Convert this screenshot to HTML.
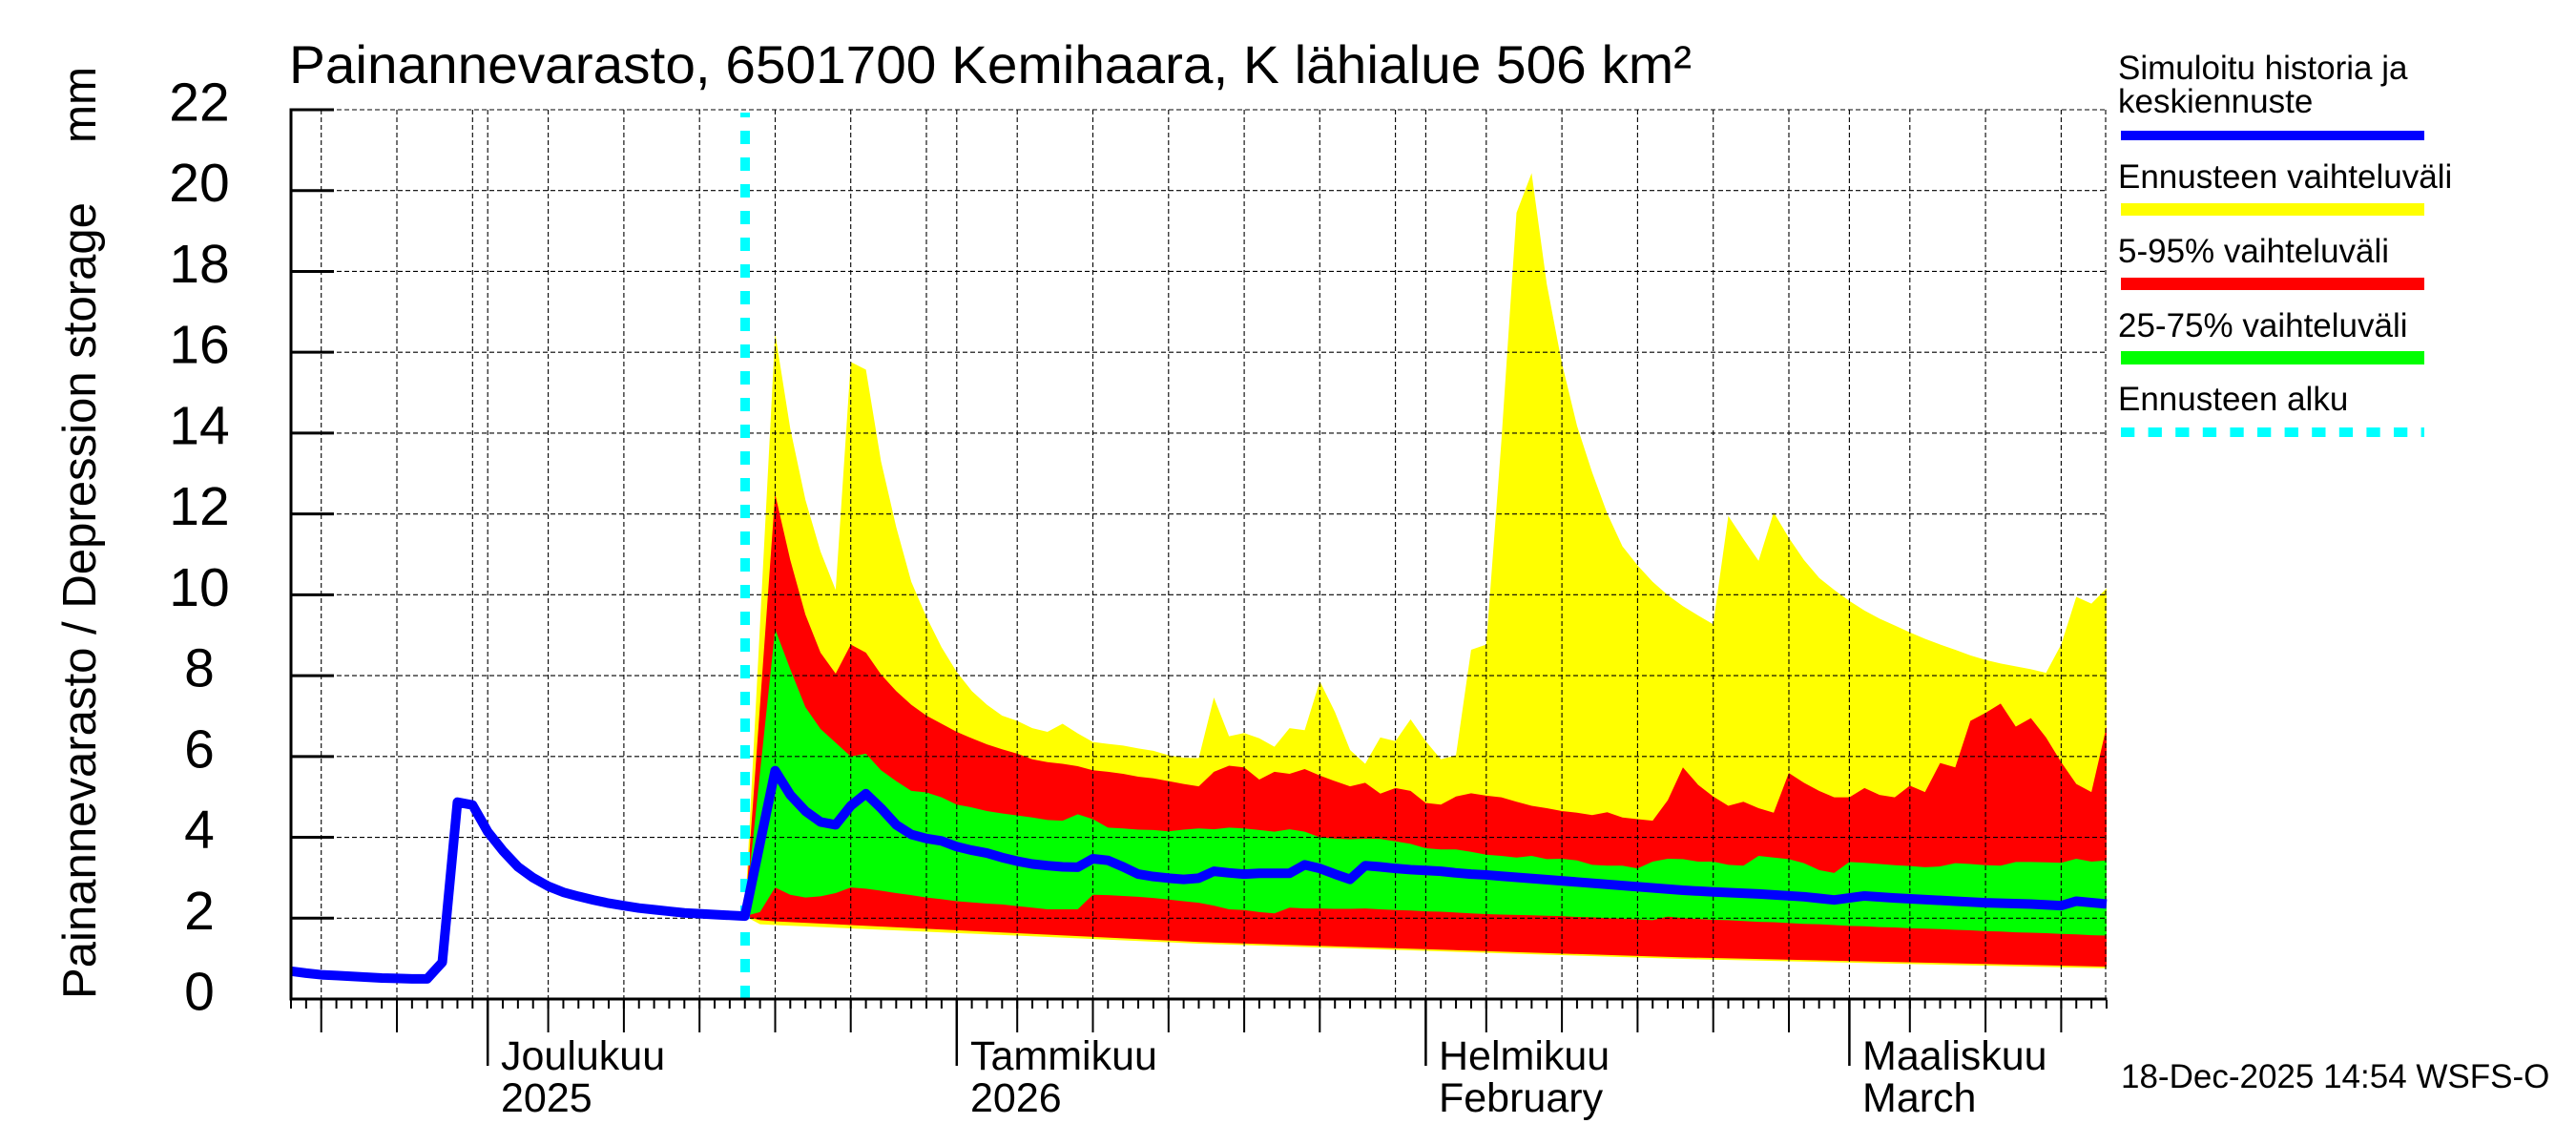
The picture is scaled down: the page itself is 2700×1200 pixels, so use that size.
<!DOCTYPE html>
<html>
<head>
<meta charset="utf-8">
<style>
html,body{margin:0;padding:0;background:#fff;}
svg{display:block;}
text{font-family:"Liberation Sans",Arial,Helvetica,sans-serif;fill:#000;}
</style>
</head>
<body>
<svg xmlns="http://www.w3.org/2000/svg" width="2700" height="1200" viewBox="0 0 2700 1200">
<defs>
<pattern id="minor" patternUnits="userSpaceOnUse" x="304" y="1048" width="15.858" height="10">
<rect x="0" y="0" width="2" height="10" fill="#000"/>
</pattern>
</defs>
<rect x="0" y="0" width="2700" height="1200" fill="#fff"/>

<!-- bands in data coordinates: x = 305 + 15.858*d, y = 1047 - 42.3636*v -->
<g transform="matrix(15.858 0 0 -42.3636 305 1047)">
<polygon fill="#ffff00" points="30,2.05 31,9.26 32,16.47 33,14.11 34,12.35 35,11.07 36,10.12 37,15.76 38,15.57 39,13.3 40,11.68 41,10.32 42,9.45 43,8.7 44,8.09 45,7.62 46,7.28 47,7.01 48,6.88 49,6.7 50,6.61 51,6.81 52,6.57 53,6.36 54,6.31 55,6.27 56,6.2 57,6.14 58,6.03 59,5.97 60,5.96 61,7.46 62,6.5 63,6.58 64,6.45 65,6.24 66,6.7 67,6.65 68,7.86 69,7.1 70,6.16 71,5.82 72,6.47 73,6.38 74,6.92 75,6.38 76,5.93 77,6.03 78,8.64 79,8.77 80,13.8 81,19.45 82,20.43 83,17.69 84,15.73 85,14.18 86,13.03 87,12.01 88,11.2 89,10.73 90,10.32 91,9.99 92,9.72 93,9.49 94,9.27 95,11.95 96,11.38 97,10.84 98,12.04 99,11.41 100,10.86 101,10.42 102,10.12 103,9.85 104,9.61 105,9.41 106,9.24 107,9.07 108,8.91 109,8.77 110,8.64 111,8.5 112,8.39 113,8.3 114,8.23 115,8.16 116,8.07 117,8.77 118,9.95 119,9.78 120,10.16 120,0.76 92,0.99 60,1.37 32,1.83 31,1.85 30,2.05"/>
<polygon fill="#ff0000" points="30,2.05 31,7.27 32,12.49 33,10.86 34,9.51 35,8.57 36,8.05 37,8.77 38,8.57 39,8.03 40,7.62 41,7.28 42,7.01 43,6.81 44,6.61 45,6.45 46,6.3 47,6.18 48,6.07 49,5.93 50,5.86 51,5.82 52,5.76 53,5.66 54,5.62 55,5.57 56,5.5 57,5.46 58,5.39 59,5.32 60,5.26 61,5.62 62,5.77 63,5.73 64,5.43 65,5.62 66,5.57 67,5.69 68,5.53 69,5.39 70,5.26 71,5.35 72,5.08 73,5.22 74,5.15 75,4.85 76,4.81 77,5.01 78,5.09 79,5.03 80,4.99 81,4.88 82,4.78 83,4.72 84,4.65 85,4.61 86,4.55 87,4.62 88,4.49 89,4.45 90,4.41 91,4.92 92,5.73 93,5.3 94,5.01 95,4.78 96,4.88 97,4.72 98,4.61 99,5.59 100,5.35 101,5.15 102,4.99 103,4.99 104,5.22 105,5.05 106,4.99 107,5.28 108,5.12 109,5.84 110,5.73 111,6.88 112,7.08 113,7.31 114,6.74 115,6.95 116,6.47 117,5.86 118,5.32 119,5.12 120,6.74 120,0.8 92,1.03 60,1.41 32,1.92 31,1.95 30,2.05"/>
<polygon fill="#00ff00" points="30,2.05 31,5.6 32,9.15 33,8.16 34,7.22 35,6.68 36,6.34 37,6.0 38,6.07 39,5.66 40,5.39 41,5.15 42,5.11 43,4.99 44,4.81 45,4.74 46,4.65 47,4.59 48,4.54 49,4.49 50,4.43 51,4.41 52,4.57 53,4.45 54,4.24 55,4.22 56,4.19 57,4.18 58,4.15 59,4.19 60,4.22 61,4.2 62,4.24 63,4.22 64,4.18 65,4.14 66,4.2 67,4.14 68,4.0 69,3.97 70,3.95 71,3.97 72,3.96 73,3.9 74,3.84 75,3.73 76,3.7 77,3.7 78,3.64 79,3.57 80,3.54 81,3.5 82,3.54 83,3.46 84,3.47 85,3.43 86,3.32 87,3.3 88,3.3 89,3.23 90,3.4 91,3.47 92,3.46 93,3.4 94,3.4 95,3.32 96,3.3 97,3.54 98,3.5 99,3.46 100,3.36 101,3.19 102,3.12 103,3.39 104,3.37 105,3.34 106,3.31 107,3.29 108,3.26 109,3.28 110,3.36 111,3.34 112,3.31 113,3.3 114,3.39 115,3.39 116,3.38 117,3.37 118,3.47 119,3.4 120,3.43 120,1.57 119,1.58 118,1.6 117,1.61 116,1.63 115,1.64 114,1.65 113,1.67 112,1.68 111,1.7 110,1.71 109,1.73 108,1.74 107,1.75 106,1.77 105,1.78 104,1.8 103,1.81 102,1.83 101,1.85 100,1.86 99,1.88 98,1.9 97,1.91 96,1.93 95,1.95 94,1.96 93,1.98 92,2.0 91,2.04 90,1.95 89,1.97 88,1.99 87,2.0 86,2.02 85,2.03 84,2.05 83,2.06 82,2.07 81,2.08 80,2.09 79,2.1 78,2.12 77,2.14 76,2.16 75,2.17 74,2.19 73,2.2 72,2.22 71,2.24 70,2.23 69,2.23 68,2.24 67,2.24 66,2.26 65,2.12 64,2.15 63,2.2 62,2.22 61,2.31 60,2.38 59,2.42 58,2.46 57,2.5 56,2.53 55,2.55 54,2.57 53,2.58 52,2.22 51,2.22 50,2.22 49,2.26 48,2.3 47,2.34 46,2.36 45,2.39 44,2.42 43,2.47 42,2.51 41,2.57 40,2.62 39,2.68 38,2.73 37,2.76 36,2.62 35,2.54 34,2.51 33,2.58 32,2.76 31,2.15 30,2.05"/>
</g>

<!-- grid -->
<path fill="none" stroke="#000" stroke-width="1.1" stroke-dasharray="5 3"
d="M305,962.27H2208 M305,877.55H2208 M305,792.82H2208 M305,708.09H2208 M305,623.36H2208 M305,538.64H2208 M305,453.91H2208 M305,369.18H2208 M305,284.45H2208 M305,199.73H2208 M305,115H2208
M336.7,115V1047 M416,115V1047 M495.3,115V1047 M511.2,115V1047 M574.6,115V1047 M653.9,115V1047 M733.2,115V1047 M812.5,115V1047 M891.7,115V1047 M971,115V1047 M1002.8,115V1047 M1066.2,115V1047 M1145.5,115V1047 M1224.8,115V1047 M1304.1,115V1047 M1383.3,115V1047 M1462.6,115V1047 M1494.4,115V1047 M1557.8,115V1047 M1637.1,115V1047 M1716.4,115V1047 M1795.7,115V1047 M1875,115V1047 M1938.4,115V1047 M2001.8,115V1047 M2081.1,115V1047 M2160.4,115V1047 M2207,115V1047"/>

<!-- forecast start -->
<path d="M781,1047V118" stroke="#00ffff" stroke-width="10" stroke-dasharray="14 14" fill="none"/>

<!-- median / history line -->
<g transform="matrix(15.858 0 0 -42.3636 305 1047)">
<polyline fill="none" stroke="#0000ff" stroke-width="10" stroke-linejoin="round" stroke-linecap="butt" vector-effect="non-scaling-stroke"
points="0,0.69 1,0.64 2,0.6 3,0.58 4,0.56 5,0.54 6,0.52 7,0.51 8,0.5 9,0.5 10,0.91 11,4.87 12,4.8 13,4.14 14,3.67 15,3.27 16,3.0 17,2.79 18,2.64 19,2.54 20,2.45 21,2.37 22,2.31 23,2.25 24,2.21 25,2.17 26,2.13 27,2.11 28,2.09 29,2.07 30,2.05 31,3.85 32,5.65 33,5.05 34,4.65 35,4.38 36,4.31 37,4.78 38,5.08 39,4.72 40,4.31 41,4.07 42,3.97 43,3.91 44,3.77 45,3.68 46,3.61 47,3.5 48,3.41 49,3.34 50,3.3 51,3.27 52,3.26 53,3.47 54,3.43 55,3.27 56,3.09 57,3.03 58,2.99 59,2.96 60,2.99 61,3.16 62,3.12 63,3.09 64,3.11 65,3.11 66,3.11 67,3.32 68,3.23 69,3.09 70,2.96 71,3.3 72,3.27 73,3.23 74,3.2 75,3.18 76,3.16 77,3.12 78,3.09 79,3.07 80,3.04 92,2.69 94,2.65 97,2.6 100,2.53 102,2.45 104,2.55 106,2.5 110,2.42 112,2.38 115,2.35 117,2.31 118,2.42 120,2.35"/>
</g>

<!-- axes -->
<path d="M305,113.5V1048.5 M303.5,1047H2208.5" stroke="#000" stroke-width="3" fill="none"/>
<path d="M305,1047H350 M305,962.27H350 M305,877.55H350 M305,792.82H350 M305,708.09H350 M305,623.36H350 M305,538.64H350 M305,453.91H350 M305,369.18H350 M305,284.45H350 M305,199.73H350 M305,115H350" stroke="#000" stroke-width="3" fill="none"/>
<rect x="304" y="1048" width="1906" height="9" fill="url(#minor)"/>
<path d="M336.7,1047V1082 M416,1047V1082 M574.6,1047V1082 M653.9,1047V1082 M733.2,1047V1082 M812.5,1047V1082 M891.7,1047V1082 M1066.2,1047V1082 M1145.5,1047V1082 M1224.8,1047V1082 M1304.1,1047V1082 M1383.3,1047V1082 M1557.8,1047V1082 M1637.1,1047V1082 M1716.4,1047V1082 M1795.7,1047V1082 M1875,1047V1082 M2001.8,1047V1082 M2081.1,1047V1082 M2160.4,1047V1082" stroke="#000" stroke-width="2" fill="none"/>
<path d="M511.2,1047V1117 M1002.8,1047V1117 M1494.4,1047V1117 M1938.4,1047V1117" stroke="#000" stroke-width="2.5" fill="none"/>

<!-- y tick labels -->
<g font-size="57" text-anchor="middle">
<text x="209" y="1058.5">0</text>
<text x="209" y="973.8">2</text>
<text x="209" y="889">4</text>
<text x="209" y="804.3">6</text>
<text x="209" y="719.6">8</text>
<text x="209" y="634.9">10</text>
<text x="209" y="550.1">12</text>
<text x="209" y="465.4">14</text>
<text x="209" y="380.7">16</text>
<text x="209" y="296">18</text>
<text x="209" y="211.2">20</text>
<text x="209" y="126.5">22</text>
</g>

<!-- y axis label -->
<text transform="translate(100,1047) rotate(-90)" font-size="49" textLength="835" lengthAdjust="spacingAndGlyphs">Painannevarasto / Depression storage</text>
<text transform="translate(100,150) rotate(-90)" font-size="49" textLength="80" lengthAdjust="spacingAndGlyphs">mm</text>

<!-- title -->
<text x="303" y="87" font-size="56" textLength="1470" lengthAdjust="spacingAndGlyphs">Painannevarasto, 6501700 Kemihaara, K lähialue 506 km²</text>

<!-- x labels -->
<g font-size="43">
<text x="525" y="1121">Joulukuu</text>
<text x="525" y="1165">2025</text>
<text x="1017" y="1121">Tammikuu</text>
<text x="1017" y="1165">2026</text>
<text x="1508" y="1121">Helmikuu</text>
<text x="1508" y="1165">February</text>
<text x="1952" y="1121">Maaliskuu</text>
<text x="1952" y="1165">March</text>
</g>

<!-- legend -->
<g font-size="35">
<text x="2220" y="83">Simuloitu historia ja</text>
<text x="2220" y="118">keskiennuste</text>
<text x="2220" y="197">Ennusteen vaihteluväli</text>
<text x="2220" y="275">5-95% vaihteluväli</text>
<text x="2220" y="353">25-75% vaihteluväli</text>
<text x="2220" y="430">Ennusteen alku</text>
</g>
<rect x="2223" y="137" width="318" height="10" fill="#0000ff"/>
<rect x="2223" y="213" width="318" height="13" fill="#ffff00"/>
<rect x="2223" y="291" width="318" height="13" fill="#ff0000"/>
<rect x="2223" y="368" width="318" height="14" fill="#00ff00"/>
<path d="M2223,453H2541" stroke="#00ffff" stroke-width="10" stroke-dasharray="14.3 14.3" fill="none"/>

<!-- timestamp -->
<text x="2223" y="1140" font-size="35">18-Dec-2025 14:54 WSFS-O</text>
</svg>
</body>
</html>
